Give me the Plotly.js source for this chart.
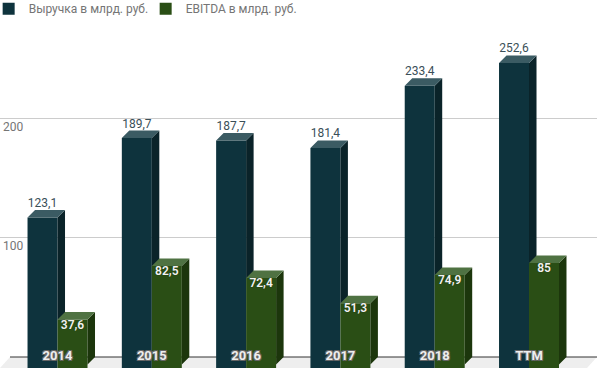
<!DOCTYPE html>
<html><head><meta charset="utf-8">
<script src="https://cdn.plot.ly/plotly-3.0.1.min.js"></script>
<style>html,body{margin:0;padding:0;overflow:hidden;background:#fff}</style>
</head><body><div id="chart" style="width:597px;height:368px"></div>
<script>
const categories = ['2014', '2015', '2016', '2017', '2018', 'TTM'];
const revenue = [123.1, 189.7, 187.7, 181.4, 233.4, 252.6];
const ebitda = [37.6, 82.5, 72.4, 51.3, 74.9, 85];
const seriesNames = ['Выручка в млрд. руб.', 'EBITDA в млрд. руб.'];
const yTicks = [100, 200];

// geometry constants (styles, not data)
const W = 0.318, DX = 0.0795, DY = 6.28;
const Y_MIN = -9.21, Y_MAX = 273.87;
const X_MIN = -0.61, X_MAX = 5.721;
const C = {
  bFront: '#0e333d', bSide: '#0a2329', bTop: '#3b5b63',
  gFront: '#2a4e15', gSide: '#1c360c', gTop: '#4f7242'
};
const FONT = 'Roboto, Arial, sans-serif';

const idx = categories.map((_, i) => i);
const fmt = v => String(v).replace('.', ',');

function faces(vals, off, clipVals) {
  const side = {x: [], y: []}, top = {x: [], y: []};
  vals.forEach((v, i) => {
    const xl = i + off, xr = xl + W;
    const bf = clipVals ? clipVals[i] - DY : -DY;
    const bb = clipVals ? clipVals[i] - DY : 0;
    side.x.push(xr, xr, xr + DX, xr + DX, null);
    side.y.push(bf, v - DY, v, bb, null);
    top.x.push(xl, xr, xr + DX, xl + DX, null);
    top.y.push(v - DY, v - DY, v, v, null);
  });
  return {side, top};
}
const fb = faces(revenue, -W, ebitda);
const fg = faces(ebitda, 0, null);

function poly(f, color, xa, ya) {
  return {type: 'scatter', x: f.x, y: f.y, mode: 'none', fill: 'toself',
    fillcolor: color, line: {width: 0}, hoverinfo: 'skip', showlegend: false,
    xaxis: xa, yaxis: ya};
}

const traces = [
  {type: 'bar', name: seriesNames[0], x: idx, y: revenue.map(v => v - DY - Y_MIN),
   base: Y_MIN, width: W, offset: -W, marker: {color: C.bFront, line: {width: 0}},
   hoverinfo: 'skip', xaxis: 'x', yaxis: 'y'},
  poly(fb.side, C.bSide, 'x', 'y'),
  poly(fb.top, C.bTop, 'x', 'y'),
  {type: 'scatter', mode: 'text', x: idx.map(i => i - W / 2), y: revenue,
   text: revenue.map(fmt), textposition: 'top center',
   textfont: {family: FONT, size: 12, color: '#3a4f58'},
   hoverinfo: 'skip', showlegend: false, xaxis: 'x', yaxis: 'y'},
  {type: 'bar', name: seriesNames[1], x: idx, y: ebitda.map(v => v - DY - Y_MIN),
   base: Y_MIN, width: W, offset: 0, marker: {color: C.gFront, line: {width: 0}},
   hoverinfo: 'skip', xaxis: 'x2', yaxis: 'y2'},
  poly(fg.side, C.gSide, 'x2', 'y2'),
  poly(fg.top, C.gTop, 'x2', 'y2'),
  {type: 'scatter', mode: 'text', x: idx.map(i => i + W / 2), y: ebitda.map(v => v - DY),
   text: ebitda.map(fmt), textposition: 'bottom center',
   textfont: {family: FONT, size: 12, color: '#f2f2f2', weight: 600, shadow: '0px 0px 1px #1a2e0c'},
   hoverinfo: 'skip', showlegend: false, xaxis: 'x2', yaxis: 'y2'},
  {type: 'scatter', mode: 'text', x: idx, y: idx.map(() => 0),
   text: categories, textposition: 'middle center',
   textfont: {family: FONT, size: 13, color: '#eeeeee', weight: 'bold',
     shadow: '-1px -1px 0 #666, 1px -1px 0 #666, -1px 1px 0 #666, 1px 1px 0 #666'},
   hoverinfo: 'skip', showlegend: false, xaxis: 'x2', yaxis: 'y2'}
];

const yp0 = (0 - Y_MIN) / (Y_MAX - Y_MIN);
const layout = {
  width: 597, height: 368,
  margin: {l: 0, r: 0, t: 30, b: 0, pad: 0, autoexpand: false},
  paper_bgcolor: '#ffffff', plot_bgcolor: 'rgba(0,0,0,0)',
  barmode: 'overlay',
  font: {family: FONT, size: 12, color: '#757575'},
  xaxis: {range: [X_MIN, X_MAX], showgrid: false, zeroline: false, showticklabels: false, ticks: '', showline: false, fixedrange: true},
  xaxis2: {range: [X_MIN, X_MAX], overlaying: 'x', visible: false, fixedrange: true},
  yaxis: {range: [Y_MIN, Y_MAX], tickvals: yTicks, ticktext: yTicks.map(String),
    showgrid: true, gridcolor: '#cccccc', gridwidth: 1, zeroline: false, showline: false,
    ticks: '', ticklabelposition: 'inside bottom', ticklabelstandoff: 0,
    tickfont: {family: FONT, size: 12, color: '#757575'}, fixedrange: true},
  yaxis2: {range: [Y_MIN, Y_MAX], overlaying: 'y', visible: false, fixedrange: true},
  showlegend: true,
  legend: {orientation: 'h', x: -0.019, xanchor: 'left', y: 1.106, yanchor: 'top',
    entrywidth: 112, entrywidthmode: 'pixels',
    font: {family: FONT, size: 12, color: '#757575'}, bgcolor: 'rgba(0,0,0,0)', traceorder: 'normal'},
  shapes: [
    {type: 'path', xref: 'paper', yref: 'paper', layer: 'below',
     path: `M ${10/597} ${yp0} L 1 ${yp0} L ${587/597} 0 L 0 0 Z`,
     fillcolor: '#eeeeee', line: {width: 0}},
    {type: 'line', xref: 'paper', yref: 'y', layer: 'below', x0: 10/597, x1: 1, y0: 0, y1: 0,
     line: {color: '#333333', width: 1}}
  ]
};

Plotly.newPlot('chart', traces, layout, {displayModeBar: false, staticPlot: true});
</script></body></html>
